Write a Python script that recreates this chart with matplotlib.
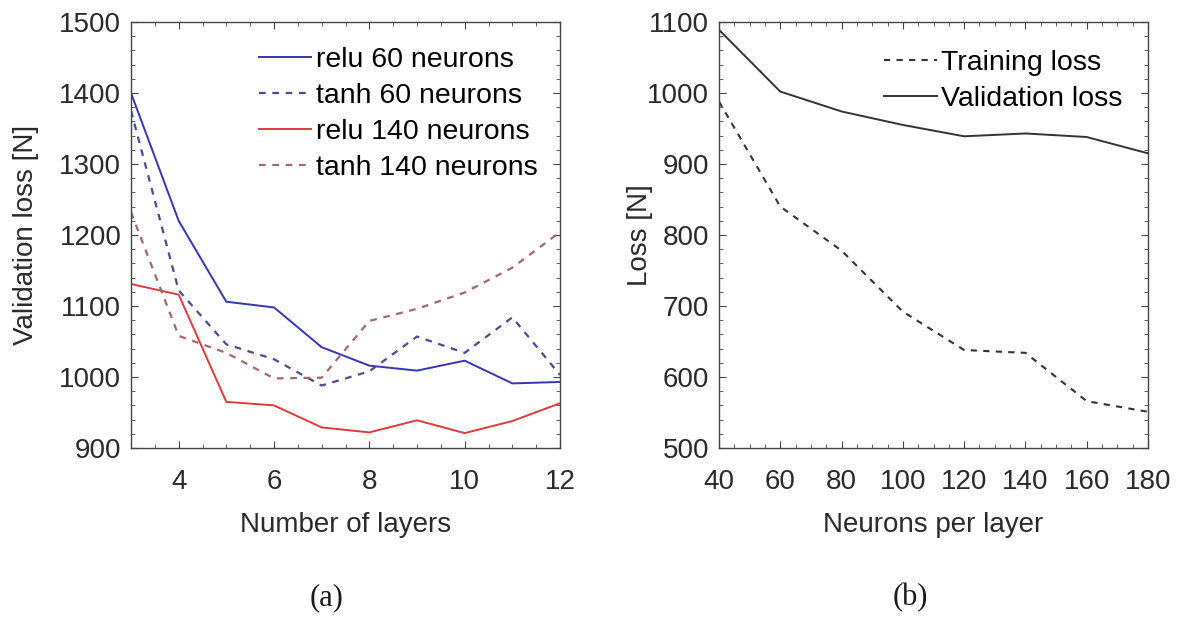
import matplotlib
matplotlib.use("Agg")
import matplotlib.pyplot as plt
from matplotlib.ticker import MultipleLocator

plt.rcParams['font.family'] = ['Liberation Sans', 'DejaVu Sans']

# (a) validation loss vs number of layers
layers = [3, 4, 5, 6, 7, 8, 9, 10, 11, 12]
relu_60 = [1400, 1220, 1106, 1098, 1042, 1016, 1009, 1023, 991, 993]
tanh_60 = [1375, 1122, 1046, 1025, 988, 1008, 1057, 1034, 1084, 1003]
relu_140 = [1131, 1116, 965, 960, 929, 922, 939, 921, 938, 963]
tanh_140 = [1232, 1058, 1034, 998, 999, 1079, 1096, 1119, 1154, 1204]

# (b) loss vs neurons per layer
neurons = [40, 60, 80, 100, 120, 140, 160, 180]
training_loss = [988, 840, 778, 692, 638, 634, 566, 551]
validation_loss = [1089, 1002, 974, 955, 939, 943, 938, 915]

fig = plt.figure(figsize=(11.78, 6.19), dpi=100)
W, H = 1178, 619

def make_axes(x0, x1, y0, y1):
    return fig.add_axes([x0 / W, 1 - y1 / H, (x1 - x0) / W, (y1 - y0) / H])

def style(ax):
    for s in ax.spines.values():
        s.set_color('#444444')
        s.set_linewidth(1.0)
    ax.tick_params(which='both', direction='in', top=True, right=True,
                   colors='#444444', labelcolor='#2a2a2a')
    ax.tick_params(which='major', length=5, labelsize=20)
    ax.tick_params(which='minor', length=3)
    ax.tick_params(axis='x', pad=15)
    ax.tick_params(axis='y', pad=7)

leg_kw = dict(frameon=False, fontsize=20.5, handlelength=1.85, handletextpad=0.15,
              labelspacing=0.35, borderaxespad=0.0, borderpad=0.0)

ax1 = make_axes(131, 560, 22, 448)
ax1.plot(layers, relu_60, color='#3535b0', lw=1.4, label='relu 60 neurons')
ax1.plot(layers, tanh_60, color='#4a4a90', lw=1.6, ls=(0, (3, 3)), label='tanh 60 neurons')
ax1.plot(layers, relu_140, color='#e03a3a', lw=1.4, label='relu 140 neurons')
ax1.plot(layers, tanh_140, color='#a06868', lw=1.6, ls=(0, (3, 3)), label='tanh 140 neurons')
ax1.set_xlim(3, 12)
ax1.set_ylim(900, 1500)
ax1.xaxis.set_minor_locator(MultipleLocator(0.5))
ax1.yaxis.set_major_locator(MultipleLocator(100))
ax1.yaxis.set_minor_locator(MultipleLocator(20))
ax1.set_xticks([4, 6, 8, 10, 12])
style(ax1)
ax1.set_xlabel('Number of layers', fontsize=20, color='#2a2a2a')
ax1.set_ylabel('Validation loss [N]', fontsize=20, color='#2a2a2a')
ax1.xaxis.set_label_coords(0.5, -0.18)
ax1.xaxis.label.set_va('center')
ax1.yaxis.set_label_coords(-0.245, 0.5)
ax1.yaxis.label.set_va('center')
ax1.legend(loc='upper right', bbox_to_anchor=(0.947, 0.942), **leg_kw)

ax2 = make_axes(719, 1148, 22, 448)
ax2.plot(neurons, training_loss, color='#333333', lw=1.5, ls=(0, (3, 3)), label='Training loss')
ax2.plot(neurons, validation_loss, color='#333333', lw=1.4, label='Validation loss')
ax2.set_xlim(40, 180)
ax2.set_ylim(500, 1100)
ax2.xaxis.set_major_locator(MultipleLocator(20))
ax2.xaxis.set_minor_locator(MultipleLocator(5))
ax2.yaxis.set_major_locator(MultipleLocator(100))
ax2.yaxis.set_minor_locator(MultipleLocator(20))
style(ax2)
ax2.set_xlabel('Neurons per layer', fontsize=20, color='#2a2a2a')
ax2.set_ylabel('Loss [N]', fontsize=20, color='#2a2a2a')
ax2.xaxis.set_label_coords(0.5, -0.18)
ax2.xaxis.label.set_va('center')
ax2.yaxis.set_label_coords(-0.184, 0.5)
ax2.yaxis.label.set_va('center')
ax2.legend(loc='upper right', bbox_to_anchor=(0.94, 0.935), **leg_kw)

fig.text(327 / W, 1 - 598 / H, '(a)', fontsize=22, family=['Liberation Serif', 'DejaVu Serif'],
         ha='center', va='center', color='#1a1a1a')
fig.text(910 / W, 1 - 598 / H, '(b)', fontsize=22, family=['Liberation Serif', 'DejaVu Serif'],
         ha='center', va='center', color='#1a1a1a')

fig.savefig('out.png', dpi=100)
